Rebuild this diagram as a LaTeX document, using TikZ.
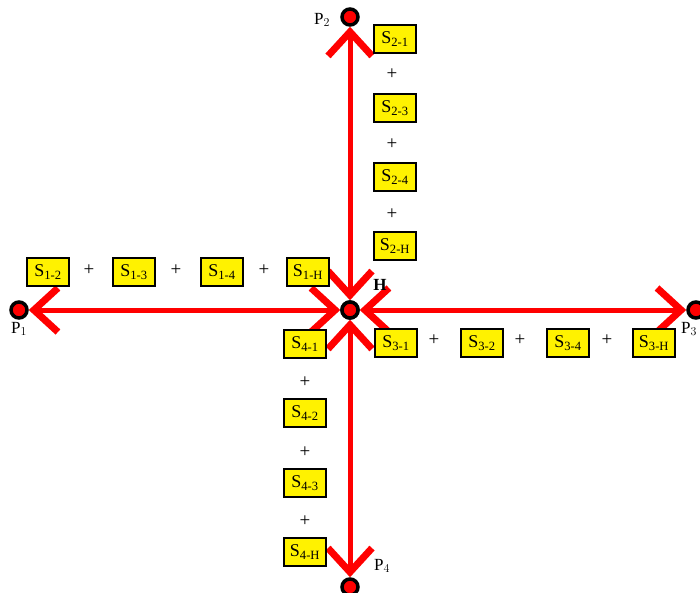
\documentclass[tikz,border=0pt]{standalone}
\usepackage{fontspec}
\setmainfont{Liberation Serif}
\usetikzlibrary{arrows.meta}
\begin{document}
\begin{tikzpicture}[x=1pt,y=-1pt,
  sbox/.style={draw=black,line width=1.8pt,fill=yellow,minimum width=42pt,minimum height=28pt,inner sep=0pt,font=\fontsize{18}{20}\selectfont},
  plus/.style={font=\fontsize{19}{21}\selectfont,inner sep=0pt},
  dot/.style={circle,draw=black,line width=3.5pt,fill=red,minimum size=16pt,inner sep=0pt},
  lbl/.style={font=\fontsize{17}{19}\selectfont,inner sep=0pt},
  barb/.tip={Straight Barb[length=24pt,width=44pt,line width=7pt]},
  link/.style={draw=red,line width=5pt,{barb}-{barb}}]
\useasboundingbox (0,0) rectangle (700,593);
\node[dot] (h) at (350,310) {};
\node[dot] (p1) at (19,310) {};
\node[dot] (p2) at (350,17) {};
\node[dot] (p3) at (696,310) {};
\node[dot] (p4) at (350,587) {};
\draw[link] (p1) -- (h);
\draw[link] (p2) -- (h);
\draw[link] (p3) -- (h);
\draw[link] (p4) -- (h);
\node[dot] at (h) {};
\node[lbl,font=\fontsize{17}{19}\selectfont\bfseries] (hl) at (380,285) {H};
\node[lbl] (p1l) at (19,329) {P$_1$};
\node[lbl] (p2l) at (322,20) {P$_2$};
\node[lbl] (p3l) at (689,329) {P$_3$};
\node[lbl] (p4l) at (382,566) {P$_4$};
% branch 2
\node[sbox] (s21) at (395,39) {S\textsubscript{2-1}};
\node[plus] (a21) at (392,74) {+};
\node[sbox] (s23) at (395,108) {S\textsubscript{2-3}};
\node[plus] (a23) at (392,144) {+};
\node[sbox] (s24) at (395,177) {S\textsubscript{2-4}};
\node[plus] (a24) at (392,214) {+};
\node[sbox] (s2h) at (395,246) {S\textsubscript{2-H}};
% branch 1
\node[sbox] (s12) at (48,272) {S\textsubscript{1-2}};
\node[plus] (a12) at (89,270) {+};
\node[sbox] (s13) at (134,272) {S\textsubscript{1-3}};
\node[plus] (a13) at (176,270) {+};
\node[sbox] (s14) at (222,272) {S\textsubscript{1-4}};
\node[plus] (a14) at (264,270) {+};
\node[sbox] (s1h) at (308,272) {S\textsubscript{1-H}};
% branch 3
\node[sbox] (s31) at (396,343) {S\textsubscript{3-1}};
\node[plus] (a31) at (434,340) {+};
\node[sbox] (s32) at (482,343) {S\textsubscript{3-2}};
\node[plus] (a32) at (520,340) {+};
\node[sbox] (s34) at (568,343) {S\textsubscript{3-4}};
\node[plus] (a34) at (607,340) {+};
\node[sbox] (s3h) at (654,343) {S\textsubscript{3-H}};
% branch 4
\node[sbox] (s41) at (305,344) {S\textsubscript{4-1}};
\node[plus] (a41) at (305,382) {+};
\node[sbox] (s42) at (305,413) {S\textsubscript{4-2}};
\node[plus] (a42) at (305,452) {+};
\node[sbox] (s43) at (305,483) {S\textsubscript{4-3}};
\node[plus] (a43) at (305,521) {+};
\node[sbox] (s4h) at (305,552) {S\textsubscript{4-H}};
\end{tikzpicture}
\end{document}
